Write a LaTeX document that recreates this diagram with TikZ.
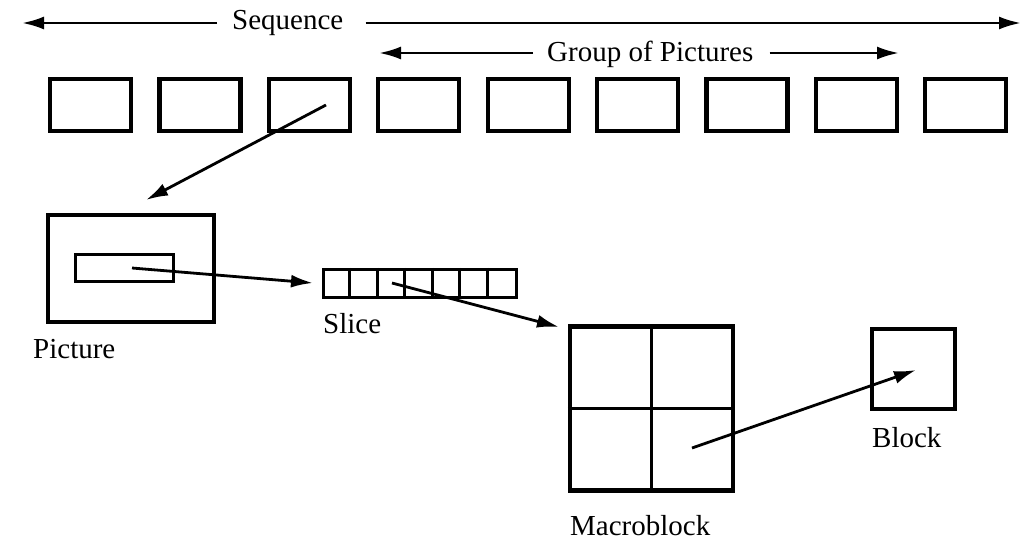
\documentclass[tikz,border=0pt]{standalone}
\usepackage{fontspec}
\setmainfont{Liberation Serif}
\usetikzlibrary{arrows.meta,positioning}
\tikzset{
  frame/.style={
    draw=black,
    line width=4.2pt,
    minimum width=81pt,
    minimum height=52pt,
    inner sep=0pt
  },
  thinframe/.style={
    draw=black,
    line width=3.4pt,
    inner sep=0pt
  },
  arrow/.style={
    -{Latex[length=22pt,width=13pt]},
    line width=2.8pt,
    draw=black
  },
  label/.style={
    font=\fontsize{29}{34}\selectfont,
    inner sep=0pt,
    anchor=base west
  }
}

\begin{document}
\begin{tikzpicture}[x=1pt,y=-1pt]
\useasboundingbox (0,0) rectangle (1032,548);

% sequence and group of pictures
\node[label] (seq) at (232,30) {Sequence};
\coordinate (seqL) at (22,23);
\coordinate (seqR) at (1021,23);
\draw[arrow] (seq.west |- seqL) ++(-15,0) -- (seqL);
\draw[arrow] (seq.east |- seqR) ++(22,0) -- (seqR);

\node[label] (gop) at (547,62) {Group of Pictures};
\coordinate (gopL) at (379,53);
\coordinate (gopR) at (899,53);
\draw[arrow] (gop.west |- gopL) ++(-14,0) -- (gopL);
\draw[arrow] (gop.east |- gopR) ++(16,0) -- (gopR);

% the pictures
\foreach \i in {1,...,9}
  \node[frame] (f\i) at ({90.5+109.4*(\i-1)},105) {};

% one picture
\node[frame, minimum width=166pt, minimum height=107pt] (pic) at (131,268.5) {};
\node[thinframe, minimum width=98pt, minimum height=27pt] (inner) at (124.5,268) {};
\node[label] (piclabel) at (33,358) {Picture};

% slice
\node[thinframe, minimum width=193pt, minimum height=28pt] (slice) at (420,283.5) {};
\foreach \k in {1,...,6}
  \draw[line width=3pt] ([xshift=27.6*\k pt]slice.north west) -- ([xshift=27.6*\k pt]slice.south west);
\node[label] (slicelabel) at (323,333) {Slice};

% macroblock
\node[frame, minimum width=163pt, minimum height=164pt] (macro) at (651.5,408.5) {};
\draw[line width=3.8pt] (macro.north) -- (macro.south);
\draw[line width=3.8pt] (macro.west) -- (macro.east);
\node[label] (macrolabel) at (570,535) {Macroblock};

% block
\node[frame, minimum width=83pt, minimum height=80pt] (block) at (913.5,369) {};
\node[label] (blocklabel) at (872,447) {Block};

% arrows between levels
\coordinate (p3) at (326,105);
\coordinate (pictip) at (146,200);
\coordinate (sl) at (132,268);
\coordinate (sltip) at (313,283);
\coordinate (mb) at (392,283);
\coordinate (mbtip) at (559,327);
\coordinate (bl) at (692,448);
\coordinate (bltip) at (916,370);
\draw[arrow] (p3) -- (pictip);
\draw[arrow] (sl) -- (sltip);
\draw[arrow] (mb) -- (mbtip);
\draw[arrow] (bl) -- (bltip);

\end{tikzpicture}
\end{document}
